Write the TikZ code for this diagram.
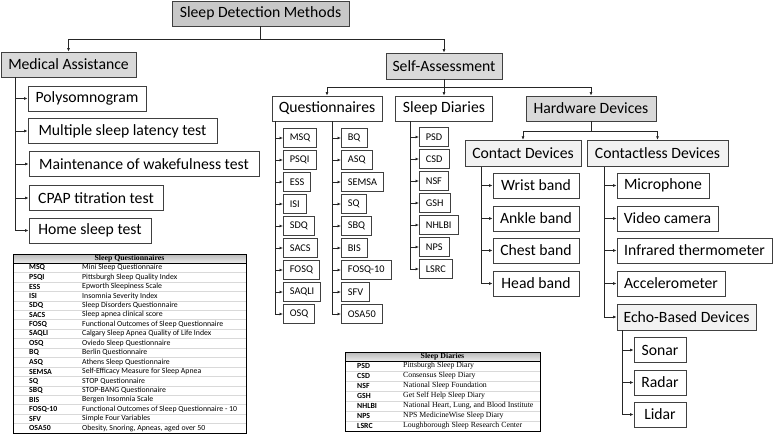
\documentclass[tikz,border=0pt]{standalone}
\usepackage{fontspec}
\setmainfont{Carlito}
\newfontfamily\tms{Liberation Serif}
\usetikzlibrary{arrows.meta}
\definecolor{gA}{HTML}{C8C8C8}
\definecolor{gB}{HTML}{D9D9D9}
\definecolor{gC}{HTML}{F2F2F2}
\definecolor{bord}{HTML}{404040}
\begin{document}
\begin{tikzpicture}[x=1pt,y=-1pt,
  base/.style={draw=bord, line width=0.8pt, inner sep=0pt, minimum height=25pt, font=\fontsize{15.7}{17}\selectfont},
  big/.style={base, fill=white},
  grayA/.style={base, fill=gA},
  grayB/.style={base, fill=gB},
  grayC/.style={base, fill=gC, minimum height=26.5pt},
  small/.style={draw=bord, line width=0.7pt, fill=white, anchor=west, inner xsep=6.5pt, inner ysep=0pt, minimum height=18.5pt, font=\fontsize{10.3}{12}\selectfont},
  arr/.style={-{Latex[length=3.5pt,width=3pt]}, line width=0.7pt, draw=black!85},
  tabtxt/.style={anchor=west, inner sep=0pt, font=\fontsize{7.8}{8}\selectfont},
  tabacr/.style={tabtxt, font=\bfseries\fontsize{7.8}{8}\selectfont},
  tabhead/.style={inner sep=0pt, font=\tms\bfseries\fontsize{7.8}{8}\selectfont},
  rowline/.style={draw=black!15, line width=0.3pt}
]
\useasboundingbox (0,0) rectangle (773,434);

% ---- top levels
\node[grayA, minimum width=177pt] (sdm) at (260.5,13.5) {Sleep Detection Methods};
\node[grayB, minimum width=135pt] (ma) at (68.5,64.5) {Medical Assistance};
\node[grayB, minimum width=116pt, minimum height=26pt] (sa) at (444,66) {Self-Assessment};

\draw[arr] (sdm.south) -- ++(0,13) -| (ma.north);
\draw[arr] (sdm.south) -- ++(0,13) -| (sa.north);

% ---- medical assistance
\node[big, minimum width=118pt] (poly) at (87,98.5) {Polysomnogram};
\node[big, minimum width=189pt] (msl) at (122.5,131) {Multiple sleep latency test};
\node[big, minimum width=230pt] (mwt) at (144,164) {Maintenance of wakefulness test};
\node[big, minimum width=134pt] (cpap) at (96,198) {CPAP titration test};
\node[big, minimum width=122pt] (hst) at (90,230.5) {Home sleep test};
\path (ma.south west) ++(15,0) coordinate (mat);
\foreach \n in {poly,msl,mwt,cpap,hst} \draw[arr] (mat) |- (\n.west);

% ---- self assessment children
\node[big, minimum width=110pt] (quest) at (327,108.5) {Questionnaires};
\node[big, minimum width=97pt] (sd) at (444,108.5) {Sleep Diaries};
\node[grayB, minimum width=130pt] (hw) at (591,108.5) {Hardware Devices};
\draw[arr] (sa.south) -- ++(0,8) -| (quest.north);
\draw[arr] (sa.south) -- (sd.north);
\draw[arr] (sa.south) -- ++(0,8) -| (hw.north);

% ---- questionnaires
\path (quest.south west) ++(4,0) coordinate (qt1);
\path (quest.south west) ++(61,0) coordinate (qt2);
\foreach \t [count=\i from 0] in {MSQ,PSQI,ESS,ISI,SDQ,SACS,FOSQ,SAQLI,OSQ}{
  \node[small] (qa\i) at (283,{138+22*\i}) {\t};
  \draw[arr] (qt1) |- (qa\i.west);
}
\foreach \t [count=\i from 0] in {BQ,ASQ,SEMSA,SQ,SBQ,BIS,FOSQ-10,SFV,OSA50}{
  \node[small] (qb\i) at (341,{138+22*\i}) {\t};
  \draw[arr] (qt2) |- (qb\i.west);
}

% ---- sleep diaries
\path (sd.south west) ++(15,0) coordinate (sdt);
\foreach \t [count=\i from 0] in {PSD,CSD,NSF,GSH,NHLBI,NPS,LSRC}{
  \node[small] (sdi\i) at (419,{137+22*\i}) {\t};
  \draw[arr] (sdt) |- (sdi\i.west);
}

% ---- hardware
\node[grayC, minimum width=116pt] (contact) at (523,153.5) {Contact Devices};
\node[grayC, minimum width=141pt] (cless) at (657.5,153.5) {Contactless Devices};
\draw[arr] (hw.south) -- ++(0,10) -| (contact.north);
\draw[arr] (hw.south) -- ++(0,10) -| (cless.north);

\node[big, minimum width=86pt] (wrist) at (536,185.5) {Wrist band};
\node[big, minimum width=86pt] (ankle) at (536,218.5) {Ankle band};
\node[big, minimum width=86pt] (chest) at (536,250.5) {Chest band};
\node[big, minimum width=86pt] (head) at (536,283.5) {Head band};
\path (contact.south west) ++(17,0) coordinate (ct);
\foreach \n in {wrist,ankle,chest,head} \draw[arr] (ct) |- (\n.west);

\node[big, minimum width=92pt] (mic) at (663,185.5) {Microphone};
\node[big, minimum width=101pt] (vid) at (667.5,218.5) {Video camera};
\node[big, minimum width=155pt] (ir) at (694.5,250.5) {Infrared thermometer};
\node[big, minimum width=108pt] (acc) at (671,283.5) {Accelerometer};
\node[grayC, minimum width=139pt, minimum height=26pt] (echo) at (686.5,317) {Echo-Based Devices};
\path (cless.south west) ++(18,0) coordinate (clt);
\foreach \n in {mic,vid,ir,acc,echo} \draw[arr] (clt) |- (\n.west);

\node[big, minimum width=52pt] (sonar) at (660,350) {Sonar};
\node[big, minimum width=52pt] (radar) at (660,382.5) {Radar};
\node[big, minimum width=52pt] (lidar) at (660,414.5) {Lidar};
\path (echo.south west) ++(6,0) coordinate (et);
\foreach \n in {sonar,radar,lidar} \draw[arr] (et) |- (\n.west);

% ---- table: sleep questionnaires
\shade[top color=black!28, bottom color=black!8] (13,254) rectangle (246,263);
\foreach \i in {1,...,17} \draw[rowline] (13,{263+9.44*\i}) -- (246,{263+9.44*\i});
\draw[line width=0.5pt] (13,254) rectangle (246,433);
\draw[line width=0.5pt] (13,263) -- (246,263);
\node[tabhead] (qth) at (129.5,258.7) {Sleep Questionnaires};
\foreach \a/\d [count=\i from 0] in {MSQ/Mini Sleep Questionnaire,PSQI/Pittsburgh Sleep Quality Index,ESS/Epworth Sleepiness Scale,ISI/Insomnia Severity Index,SDQ/Sleep Disorders Questionnaire,SACS/Sleep apnea clinical score,FOSQ/Functional Outcomes of Sleep Questionnaire,SAQLI/Calgary Sleep Apnea Quality of Life Index,OSQ/Oviedo Sleep Questionnaire,BQ/Berlin Questionnaire,ASQ/Athens Sleep Questionnaire,SEMSA/Self-Efficacy Measure for Sleep Apnea,SQ/STOP Questionnaire,SBQ/STOP-BANG Questionnaire,BIS/Bergen Insomnia Scale,FOSQ-10/Functional Outcomes of Sleep Questionnaire - 10,SFV/Simple Four Variables,OSA50/{Obesity, Snoring, Apneas, aged over 50}}{
  \node[tabacr] (qta\i) at (29,{267.7+9.44*\i}) {\a};
  \node[tabtxt] (qtd\i) at (82,{267.7+9.44*\i}) {\d};
}

% ---- table: sleep diaries
\shade[top color=black!28, bottom color=black!8] (345,352) rectangle (540,361);
\foreach \i in {1,...,6} \draw[rowline] (345,{361+10*\i}) -- (540,{361+10*\i});
\draw[line width=0.5pt] (345,352) rectangle (540,431);
\draw[line width=0.5pt] (345,361) -- (540,361);
\node[tabhead] (dth) at (442.5,356.7) {Sleep Diaries};
\foreach \a/\d [count=\i from 0] in {PSD/Pittsburgh Sleep Diary,CSD/Consensus Sleep Diary,NSF/National Sleep Foundation,GSH/Get Self Help Sleep Diary,NHLBI/{National Heart, Lung, and Blood Institute},NPS/NPS MedicineWise Sleep Diary,LSRC/Loughborough Sleep Research Center}{
  \node[tabacr] (dta\i) at (357,{366+10*\i}) {\a};
  \node[tabtxt, font=\tms\fontsize{7.8}{8}\selectfont] (dtd\i) at (403,{366+10*\i}) {\d};
}
\end{tikzpicture}
\end{document}
